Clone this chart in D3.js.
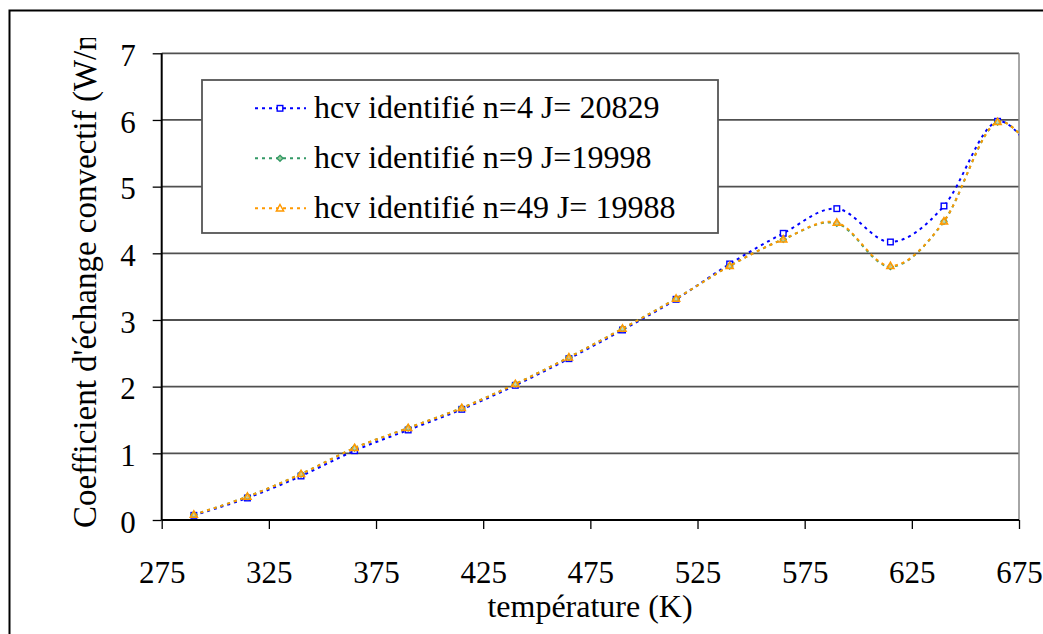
<!DOCTYPE html>
<html><head><meta charset="utf-8">
<script src="https://cdn.jsdelivr.net/npm/d3@7"></script>
<style>body{margin:0;background:#fff}svg{display:block}text{font-family:"Liberation Serif","Times New Roman",serif;fill:#000}</style>
</head><body><svg id="c" width="1043" height="634"></svg>
<script>
const temps = [290,315,340,365,390,415,440,465,490,515,540,565,590,615,640,665,690];
const hcvN4  = [0.07,0.33,0.66,1.04,1.35,1.66,2.02,2.42,2.85,3.31,3.84,4.30,4.67,4.17,4.71,5.98,5.10];
const hcvN9  = [0.08,0.35,0.69,1.08,1.38,1.68,2.04,2.44,2.87,3.32,3.81,4.21,4.45,3.80,4.48,5.97,5.10];
const hcvN49 = [0.08,0.35,0.69,1.08,1.38,1.68,2.04,2.44,2.87,3.32,3.81,4.21,4.46,3.81,4.48,5.97,5.10];
const seriesNames = ["hcv identifié n=4 J= 20829","hcv identifié n=9 J=19998","hcv identifié n=49 J= 19988"];
const xTicks = [275,325,375,425,475,525,575,625,675];
const yTicks = [0,1,2,3,4,5,6,7];
const xTitle = "température (K)";
const yTitle = "Coefficient d'échange convectif (W/m²K)";

const svg = d3.select("#c");
const L=161.7, R=1019, T=53.3, B=520;
const x = d3.scaleLinear().domain([275,675]).range([L,R]);
const y = d3.scaleLinear().domain([0,7]).range([B,T]);

// outer frame
svg.append("rect").attr("x",9.5).attr("y",10.5).attr("width",1060).attr("height",660)
  .attr("fill","none").attr("stroke","#000").attr("stroke-width",2);

// gridlines
svg.append("g").selectAll("line").data(yTicks.filter(d=>d>0)).join("line")
  .attr("x1",L).attr("x2",R).attr("y1",d=>y(d)).attr("y2",d=>y(d))
  .attr("stroke","#505050").attr("stroke-width",1.8);
// right border
svg.append("line").attr("x1",R).attr("x2",R).attr("y1",T).attr("y2",B).attr("stroke","#888").attr("stroke-width",1.5);

// axes
const yAxis = svg.append("g").attr("transform",`translate(${L},0)`)
  .call(d3.axisLeft(y).tickValues(yTicks).tickSize(9).tickPadding(17).tickFormat(d3.format("d")));
const xAxis = svg.append("g").attr("transform",`translate(0,${B})`)
  .call(d3.axisBottom(x).tickValues(xTicks).tickSize(9).tickPadding(32).tickFormat(d3.format("d")));
[yAxis,xAxis].forEach(g=>{
  g.select(".domain").attr("stroke","#000").attr("stroke-width",2);
  g.selectAll(".tick line").attr("stroke","#000").attr("stroke-width",1.3);
  g.selectAll("text").attr("font-family","Liberation Serif").attr("font-size",31).attr("fill","#000");
});
yAxis.selectAll("text").attr("dy","0.62em").attr("y",-7);
xAxis.selectAll("text").attr("dy","0").attr("y",63);
xAxis.select(".domain").attr("d",`M${L},0H${R}`);
yAxis.select(".domain").attr("d",`M0,${T}V${B}`);

// titles
svg.append("text").attr("x",590).attr("y",617).attr("text-anchor","middle").attr("font-size",32).text(xTitle);
svg.append("clipPath").attr("id","yclip").append("rect").attr("x",0).attr("y",38).attr("width",150).attr("height",600);
svg.append("g").attr("clip-path","url(#yclip)").append("text")
  .attr("transform","translate(96,528) rotate(-90)").attr("font-size",33).text(yTitle);

// series
svg.append("clipPath").attr("id","pclip").append("rect").attr("x",L-10).attr("y",T-10).attr("width",R-L+10).attr("height",B-T+20);
const series = [
  {vals:hcvN4, color:"#0000ff", marker:"square"},
  {vals:hcvN9, color:"#339966", marker:"diamond"},
  {vals:hcvN49, color:"#ff9900", marker:"triangle"}
];
const line = d3.line().x(d=>x(d[0])).y(d=>y(d[1])).curve(d3.curveCatmullRom.alpha(0));
const pg = svg.append("g").attr("clip-path","url(#pclip)");
function drawMarker(g, type, color, cx, cy){
  if(type==="square") g.append("rect").attr("x",cx-2.8).attr("y",cy-2.8).attr("width",5.6).attr("height",5.6).attr("fill","#fff").attr("stroke",color).attr("stroke-width",1.4);
  else if(type==="diamond") g.append("path").attr("d",`M${cx},${cy-3}L${cx+3},${cy}L${cx},${cy+3}L${cx-3},${cy}Z`).attr("fill","#9c9").attr("stroke",color).attr("stroke-width",1.3);
  else g.append("path").attr("d",`M${cx},${cy-3.8}L${cx+3.6},${cy+2.6}L${cx-3.6},${cy+2.6}Z`).attr("fill","#fff").attr("fill-opacity",0.3).attr("stroke",color).attr("stroke-width",1.5);
}
series.forEach(s=>{
  const pts = temps.map((t,i)=>[t,s.vals[i]]);
  pg.append("path").attr("d",line(pts)).attr("fill","none").attr("stroke",s.color).attr("stroke-width",2).attr("stroke-dasharray","3,4");
  const mg = pg.append("g");
  pts.filter(p=>p[0]<=675).forEach(p=>drawMarker(mg,s.marker,s.color,x(p[0]),y(p[1])));
});

// legend
const lg = svg.append("g");
lg.append("rect").attr("x",202).attr("y",80).attr("width",516).attr("height",153).attr("fill","#fff").attr("stroke","#555").attr("stroke-width",1.8);
series.forEach((s,i)=>{
  const cy = 108.3 + i*50;
  lg.append("line").attr("x1",255).attr("x2",306).attr("y1",cy).attr("y2",cy).attr("stroke",s.color).attr("stroke-width",2).attr("stroke-dasharray","3,4");
  drawMarker(lg,s.marker,s.color,280,cy);
  lg.append("text").attr("x",314).attr("y",cy+10).attr("font-size",32).text(seriesNames[i]);
});
</script></body></html>
